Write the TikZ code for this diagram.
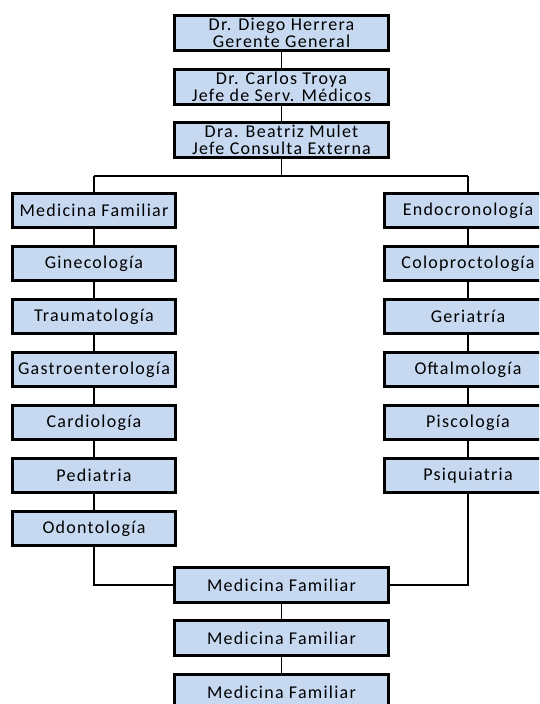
\documentclass[tikz,border=0pt]{standalone}
\usepackage{fontspec}
\setmainfont{Carlito}[LetterSpace=7]
\definecolor{boxfill}{HTML}{C6D9F1}
\begin{document}
\begin{tikzpicture}[x=1pt,y=-1pt,
  unit/.style={draw=black, line width=2.8pt, fill=boxfill, inner sep=0pt,
    minimum height=34.5pt, align=center,
    font=\fontsize{18}{17}\selectfont},
  headbox/.style={unit, minimum width=214pt},
  sidebox/.style={unit, minimum width=163pt},
  link/.style={draw=black, line width=1.8pt}]
\useasboundingbox (0,0) rectangle (539,704);
\clip (0,0) rectangle (539,704);

% management chain
\node[headbox] (g1) at (281.5,33) {Dr. Diego Herrera\\Gerente General};
\node[headbox] (g2) at (281.5,87) {Dr. Carlos Troya\\Jefe de Serv. Médicos};
\node[headbox] (g3) at (281.5,140) {Dra. Beatriz Mulet\\Jefe Consulta Externa};

% left column of services
\node[sidebox] (l1) at (94,210.5) {Medicina Familiar};
\node[sidebox] (l2) at (94,263.5) {Ginecología};
\node[sidebox] (l3) at (94,316.5) {Traumatología};
\node[sidebox] (l4) at (94,369.5) {Gastroenterología};
\node[sidebox] (l5) at (94,422.5) {Cardiología};
\node[sidebox] (l6) at (94,475.5) {Pediatria};
\node[sidebox] (l7) at (94,528.5) {Odontología};

% right column of services
\node[sidebox, minimum width=167pt] (r1) at (468,210.5) {Endocronología};
\node[sidebox, minimum width=167pt] (r2) at (468,263.5) {Coloproctología};
\node[sidebox, minimum width=167pt] (r3) at (468,316.5) {Geriatría};
\node[sidebox, minimum width=167pt] (r4) at (468,369.5) {Oftalmología};
\node[sidebox, minimum width=167pt] (r5) at (468,422.5) {Piscología};
\node[sidebox, minimum width=167pt] (r6) at (468,475.5) {Psiquiatria};

% lower chain
\node[headbox] (b1) at (281.5,585) {Medicina Familiar};
\node[headbox] (b2) at (281.5,638) {Medicina Familiar};
\node[headbox] (b3) at (281.5,692) {Medicina Familiar};

% branching bus
\coordinate (bus) at (281.5,176);
\coordinate (busL) at (94,176);
\coordinate (busR) at (468,176);
\coordinate (jL) at (94,585);
\coordinate (jR) at (468,585);

\path[link] (g1) -- (g2) (g2) -- (g3) (g3) -- (bus);
\path[link] (busL) -- (busR);
\path[link] (busL) -- (l1) (l1) -- (l2) (l2) -- (l3) (l3) -- (l4)
  (l4) -- (l5) (l5) -- (l6) (l6) -- (l7);
\path[link] (busR) -- (r1) (r1) -- (r2) (r2) -- (r3) (r3) -- (r4)
  (r4) -- (r5) (r5) -- (r6);
\path[link] (l7) -- (jL) -- (b1);
\path[link] (r6) -- (jR) -- (b1);
\path[link] (b1) -- (b2) (b2) -- (b3);
\end{tikzpicture}
\end{document}
